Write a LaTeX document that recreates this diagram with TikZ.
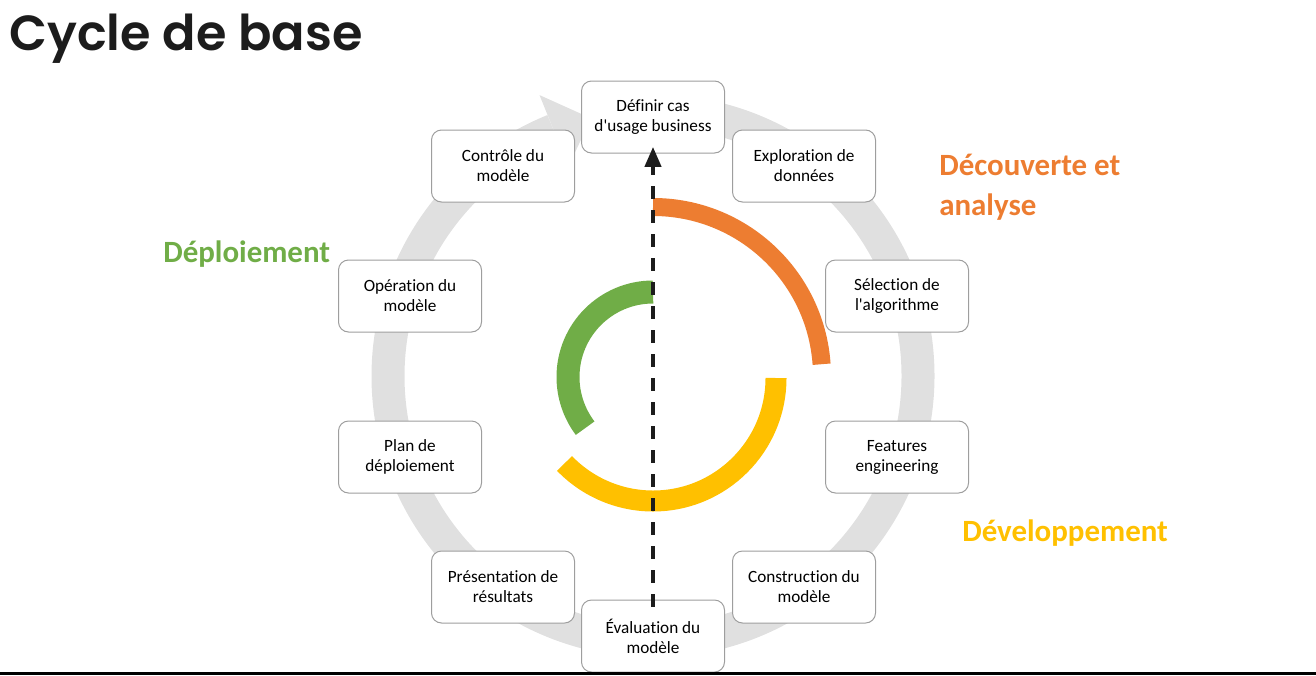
\documentclass[tikz,border=0pt]{standalone}
\usepackage{fontspec}
\setmainfont{Carlito}[Ligatures=NoCommon]
\newfontfamily\titlefont{Poppins SemiBold}
\usetikzlibrary{arrows.meta}
\definecolor{orangeC}{HTML}{ED7D31}
\definecolor{yellowC}{HTML}{FFC000}
\definecolor{greenC}{HTML}{70AD47}
\definecolor{ringgray}{HTML}{E0E0E0}
\definecolor{boxgray}{HTML}{9E9E9E}
\definecolor{titleblack}{HTML}{1C1C1C}
\tikzset{
  stagebox/.style={draw=boxgray, fill=white, rounded corners=7.5pt,
    minimum width=107.25pt, minimum height=54pt, align=center,
    font=\fontsize{12.9}{15}\selectfont, inner sep=2pt, line width=0.75pt},
  phaselabel/.style={font=\fontsize{23.2}{30}\selectfont\bfseries, align=left,
    inner sep=0pt, anchor=base west},
  ringband/.style={draw=ringgray, line width=24.75pt},
  phasearc/.style={line cap=butt},
  flowarrow/.style={draw=titleblack, line width=3pt, dash pattern=on 9.75pt off 8.25pt,
    -{Triangle[width=12pt,length=15pt]}}
}
\begin{document}
\begin{tikzpicture}[x=0.75pt,y=0.75pt]
\useasboundingbox (0,0) rectangle (1316,-675);
% title
\node[font=\fontsize{37}{44}\selectfont\titlefont, text=titleblack,
  anchor=base west, inner sep=0pt] (title) at (9,-50) {Cycle de base};
% grey cycle ring with arrow head
\begin{scope}[shift={(653,-376)}]
  \draw[ringband] (88:265) arc[start angle=88, end angle=-248, radius=265];
  \fill[ringgray] (112:226) -- (112:303) -- (103.5:265) -- cycle;
\end{scope}
% stages
\node[stagebox] (def)  at (653,-117) {Définir cas\\d\textquotesingle usage business};
\node[stagebox] (expl) at (804,-166) {Exploration de\\données};
\node[stagebox] (sel)  at (897,-296) {Sélection de\\l\textquotesingle algorithme};
\node[stagebox] (feat) at (897,-457) {Features\\engineering};
\node[stagebox] (cons) at (804,-587) {Construction du\\modèle};
\node[stagebox] (eval) at (653,-636) {Évaluation du\\modèle};
\node[stagebox] (pres) at (503,-587) {Présentation de\\résultats};
\node[stagebox] (plan) at (410,-457) {Plan de\\déploiement};
\node[stagebox] (oper) at (410,-296) {Opération du\\modèle};
\node[stagebox] (ctrl) at (503,-166) {Contrôle du\\modèle};
% phase arcs
\draw[phasearc, orangeC, line width=13.5pt] (653,-376) ++(90:169) arc[start angle=90, end angle=4, radius=169];
\draw[phasearc, yellowC, line width=15.75pt] (653,-378) ++(0:123) arc[start angle=0, end angle=-136, radius=123];
\draw[phasearc, greenC, line width=17.25pt] (653,-377) ++(90:85) arc[start angle=90, end angle=217, radius=85];
% dashed arrow
\draw[flowarrow] ([yshift=-5.25pt]eval.north) -- ([yshift=5pt]def.south);
% phase labels
\node[phaselabel, text=orangeC] (decouv) at (939,-215) {Découverte et\\analyse};
\node[phaselabel, text=yellowC] (devel) at (962,-541) {Développement};
\node[phaselabel, text=greenC] (deploy) at (163,-262) {Déploiement};
% bottom rule
\draw[line width=2.25pt, black] (0,-673.5) -- (1316,-673.5);
\end{tikzpicture}
\end{document}
